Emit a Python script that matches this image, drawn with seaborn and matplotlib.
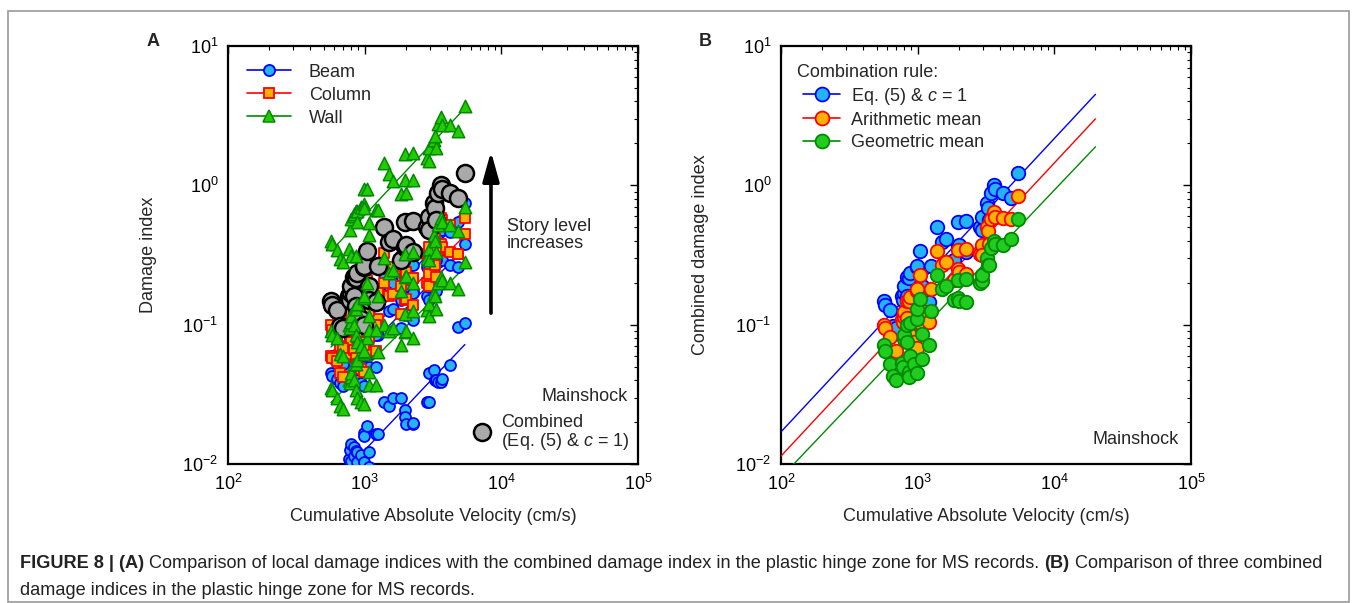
import numpy as np
import pandas as pd
import matplotlib
matplotlib.use("Agg")
import matplotlib.pyplot as plt
import seaborn as sns
from matplotlib.lines import Line2D
from matplotlib.patches import Rectangle

# ---------------- data ----------------
cav = [567, 577, 628, 660, 690, 770, 780, 790, 795, 836,
       836, 860, 860, 885, 885, 938, 982, 982, 990, 1040,
       1080, 1080, 1210, 1250, 1390, 1500, 1610, 1840, 1970, 1970,
       2020, 2240, 2250, 2870, 2940, 2970, 3240, 3250, 3300, 3430,
       3590, 3650, 4190, 4780, 5410]

combined_eq5 = [0.147, 0.139, 0.127, 0.098, 0.095, 0.160, 0.150, 0.169, 0.191, 0.160,
                0.221, 0.217, 0.136, 0.233, 0.118, 0.109, 0.258, 0.265, 0.100, 0.340,
                0.191, 0.150, 0.145, 0.264, 0.505, 0.392, 0.409, 0.291, 0.548, 0.363,
                0.370, 0.557, 0.330, 0.505, 0.589, 0.478, 0.743, 0.684, 0.560, 0.885,
                1.000, 0.935, 0.885, 0.807, 1.220]

combined_arith = [0.100, 0.095, 0.081, 0.062, 0.065, 0.110, 0.105, 0.114, 0.123, 0.112,
                  0.147, 0.147, 0.090, 0.158, 0.085, 0.075, 0.174, 0.180, 0.068, 0.227,
                  0.125, 0.100, 0.104, 0.181, 0.340, 0.270, 0.280, 0.210, 0.343, 0.249,
                  0.240, 0.350, 0.232, 0.321, 0.373, 0.316, 0.505, 0.470, 0.380, 0.570,
                  0.647, 0.596, 0.580, 0.570, 0.843]

combined_geom = [0.071, 0.065, 0.052, 0.043, 0.040, 0.053, 0.050, 0.079, 0.085, 0.075,
                 0.100, 0.046, 0.042, 0.103, 0.060, 0.052, 0.110, 0.130, 0.045, 0.153,
                 0.086, 0.057, 0.072, 0.125, 0.229, 0.181, 0.190, 0.150, 0.210, 0.156,
                 0.147, 0.211, 0.145, 0.200, 0.205, 0.229, 0.299, 0.268, 0.270, 0.353,
                 0.400, 0.380, 0.373, 0.410, 0.570]

# local damage indices, one list per story level (panel A)
beam_s1 = [0.006, 0.0055, 0.007, 0.005, 0.006, 0.0108, 0.0126, 0.0139, 0.0105, 0.0133,
           0.0115, 0.0123, 0.009, 0.0121, 0.0104, 0.0116, 0.0166, 0.0104, 0.0160, 0.0187,
           0.0121, 0.0095, 0.0164, 0.0164, 0.028, 0.026, 0.030, 0.030, 0.0244, 0.0217,
           0.0194, 0.0194, 0.0196, 0.028, 0.028, 0.045, 0.047, 0.040, 0.040, 0.039,
           0.039, 0.041, 0.051, 0.097, 0.103]
beam_s2 = [0.045, 0.043, 0.041, 0.038, 0.036, 0.050, 0.048, 0.055, 0.058, 0.052,
           0.068, 0.068, 0.045, 0.072, 0.040, 0.038, 0.080, 0.082, 0.036, 0.105,
           0.062, 0.050, 0.050, 0.085, 0.160, 0.125, 0.130, 0.095, 0.170, 0.118,
           0.120, 0.175, 0.108, 0.160, 0.185, 0.150, 0.235, 0.215, 0.175, 0.280,
           0.310, 0.290, 0.270, 0.260, 0.380]
beam_s3 = [0.060, 0.058, 0.062, 0.055, 0.052, 0.085, 0.080, 0.090, 0.095, 0.088,
           0.110, 0.112, 0.075, 0.118, 0.068, 0.062, 0.130, 0.135, 0.060, 0.165,
           0.100, 0.082, 0.085, 0.140, 0.230, 0.190, 0.200, 0.150, 0.260, 0.185,
           0.190, 0.270, 0.170, 0.260, 0.300, 0.250, 0.380, 0.350, 0.290, 0.450,
           0.520, 0.480, 0.460, 0.550, 0.750]
column_s2 = [0.060, 0.058, 0.055, 0.045, 0.042, 0.065, 0.062, 0.070, 0.075, 0.066,
             0.090, 0.088, 0.058, 0.095, 0.052, 0.048, 0.105, 0.108, 0.046, 0.135,
             0.080, 0.064, 0.065, 0.110, 0.200, 0.160, 0.165, 0.120, 0.210, 0.150,
             0.152, 0.215, 0.138, 0.200, 0.230, 0.190, 0.290, 0.270, 0.220, 0.340,
             0.380, 0.360, 0.330, 0.320, 0.450]
column_s3 = [0.100, 0.092, 0.085, 0.070, 0.068, 0.105, 0.098, 0.110, 0.120, 0.105,
             0.140, 0.140, 0.090, 0.150, 0.080, 0.075, 0.165, 0.170, 0.072, 0.210,
             0.125, 0.100, 0.100, 0.170, 0.327, 0.250, 0.260, 0.190, 0.330, 0.235,
             0.240, 0.340, 0.215, 0.320, 0.360, 0.300, 0.460, 0.420, 0.350, 0.540,
             0.583, 0.560, 0.520, 0.320, 0.580]
wall_s1 = [0.035, 0.034, 0.030, 0.026, 0.025, 0.040, 0.038, 0.042, 0.045, 0.040,
           0.052, 0.052, 0.034, 0.056, 0.030, 0.028, 0.062, 0.064, 0.027, 0.080,
           0.046, 0.037, 0.037, 0.064, 0.100, 0.090, 0.095, 0.072, 0.120, 0.088,
           0.090, 0.125, 0.080, 0.128, 0.140, 0.115, 0.170, 0.160, 0.130, 0.200,
           0.220, 0.210, 0.200, 0.180, 0.280]
wall_s2 = [0.090, 0.085, 0.080, 0.062, 0.060, 0.100, 0.095, 0.105, 0.115, 0.100,
           0.130, 0.130, 0.085, 0.140, 0.075, 0.070, 0.155, 0.160, 0.065, 0.200,
           0.115, 0.092, 0.092, 0.160, 0.300, 0.235, 0.245, 0.175, 0.320, 0.220,
           0.225, 0.330, 0.200, 0.300, 0.350, 0.290, 0.440, 0.400, 0.330, 0.520,
           0.580, 0.550, 0.520, 0.470, 0.700]
wall_s3 = [0.398, 0.380, 0.346, 0.294, 0.281, 0.350, 0.480, 0.570, 0.310, 0.600,
           0.620, 0.310, 0.650, 0.650, 0.550, 0.700, 0.730, 0.940, 0.690, 0.940,
           0.540, 0.440, 0.670, 0.670, 1.450, 1.210, 1.070, 0.860, 1.690, 1.100,
           0.880, 1.100, 1.710, 1.570, 1.490, 1.850, 2.120, 2.270, 1.850, 2.770,
           3.080, 2.720, 2.720, 2.440, 3.720]

# fitted lines of panel B (end points)
fitB_x = [100, 20000]
fitB_eq5 = [0.017, 4.5]
fitB_arith = [0.0114, 3.0]
fitB_geom = [0.0080, 1.89]

tick_vals_x = [1e2, 1e3, 1e4, 1e5]
tick_vals_y = [1e-2, 1e-1, 1e0, 1e1]

# ---------------- style ----------------
sns.set_theme(style="white", rc={"axes.edgecolor": "black", "xtick.color": "black",
                                 "ytick.color": "black"})
plt.rcParams["font.family"] = ["Liberation Sans", "DejaVu Sans"]
plt.rcParams["mathtext.fontset"] = "custom"
plt.rcParams["mathtext.rm"] = "Liberation Sans"
plt.rcParams["mathtext.it"] = "Liberation Sans:italic"
plt.rcParams["mathtext.default"] = "regular"

W, H = 1354, 603
fig = plt.figure(figsize=(W / 100, H / 100), dpi=100)
fig.patch.set_facecolor("white")

def ax_rect(left, top, right, bottom):
    return [left / W, 1 - bottom / H, (right - left) / W, (bottom - top) / H]

axA = fig.add_axes(ax_rect(228, 46, 638, 464))
axB = fig.add_axes(ax_rect(781, 46, 1191, 464))

FS = 13

def fmt(v):
    return r"$10^{%d}$" % int(round(np.log10(v)))

for ax in (axA, axB):
    ax.set_xscale("log")
    ax.set_yscale("log")
    ax.set_xlim(1e2, 1e5)
    ax.set_ylim(1e-2, 1e1)
    ax.set_xticks(tick_vals_x)
    ax.set_xticklabels([fmt(v) for v in tick_vals_x])
    ax.set_yticks(tick_vals_y)
    ax.set_yticklabels([fmt(v) for v in tick_vals_y])
    ax.tick_params(which="both", direction="in", top=True, right=True,
                   labelsize=FS, color="black")
    ax.tick_params(which="major", length=6, width=1.0, pad=7)
    ax.tick_params(which="minor", length=3, width=0.8)
    for s in ax.spines.values():
        s.set_linewidth(1.6)
        s.set_color("black")
    ax.set_xlabel("Cumulative Absolute Velocity (cm/s)", fontsize=FS)
    ax.xaxis.set_label_coords(0.5, -0.105)

axA.set_ylabel("Damage index", fontsize=FS)
axA.yaxis.set_label_coords(-0.174, 0.5)
axB.set_ylabel("Combined damage index", fontsize=FS)
axB.yaxis.set_label_coords(-0.175, 0.5)

# colours
BLUE_E, BLUE_F = "#0000ff", "#22b4f5"
RED_E, ORG_F = "#ff0000", "#ffb000"
GRN_E, GRN_F = "#008a00", "#22cc00"
GRN_F2 = "#20cc20"

def fit_line(ax, x, y, color):
    lx, ly = np.log10(x), np.log10(y)
    b, a = np.polyfit(lx, ly, 1)
    xx = np.array([min(x), max(x)])
    ax.plot(xx, 10 ** (a + b * np.log10(xx)), color=color, lw=1.0, zorder=3)

# ---------------- panel A ----------------
groups = [
    ("beam", beam_s1, "o", BLUE_F, BLUE_E, 62),
    ("beam", beam_s2, "o", BLUE_F, BLUE_E, 62),
    ("beam", beam_s3, "o", BLUE_F, BLUE_E, 62),
    ("column", column_s2, "s", ORG_F, RED_E, 48),
    ("column", column_s3, "s", ORG_F, RED_E, 48),
]
for name, vals, mk, fc, ec, s in groups:
    sns.scatterplot(x=cav, y=vals, ax=axA, marker=mk, s=s, color=fc,
                    edgecolor=ec, linewidth=1.3, zorder=4, legend=False)
    fit_line(axA, cav, vals, ec)

sns.scatterplot(x=cav, y=combined_eq5, ax=axA, marker="o", s=150, color="#aaaaaa",
                edgecolor="black", linewidth=1.8, zorder=5, legend=False)

for vals in (wall_s1, wall_s2, wall_s3):
    sns.scatterplot(x=cav, y=vals, ax=axA, marker="^", s=80, color=GRN_F,
                    edgecolor=GRN_E, linewidth=1.1, zorder=6, legend=False)
    fit_line(axA, cav, vals, GRN_E)

handlesA = [
    Line2D([], [], color=BLUE_E, lw=1.2, marker="o", ms=8, mfc=BLUE_F, mec=BLUE_E, mew=1.3),
    Line2D([], [], color=RED_E, lw=1.2, marker="s", ms=7, mfc=ORG_F, mec=RED_E, mew=1.3),
    Line2D([], [], color=GRN_E, lw=1.2, marker="^", ms=9, mfc=GRN_F, mec=GRN_E, mew=1.1),
]
legA = axA.legend(handlesA, ["Beam", "Column", "Wall"], loc="upper left",
                  bbox_to_anchor=(0.028, 0.975), frameon=False, fontsize=FS,
                  handlelength=2.45, handletextpad=1.0, labelspacing=0.33,
                  borderaxespad=0.0)

axA.annotate("", xy=(8400, 1.75), xytext=(8400, 0.121),
             arrowprops=dict(arrowstyle="-|>,head_length=0.9,head_width=0.25",
                             lw=2.6, color="black", mutation_scale=20,
                             shrinkA=0, shrinkB=0))
axA.text(11000, 0.44, "Story level\nincreases", fontsize=FS, ha="left",
         va="center", linespacing=1.05)
axA.text(0.975, 0.161, "Mainshock", transform=axA.transAxes, fontsize=FS,
         ha="right", va="center")
axA.scatter([0.62], [0.0776], transform=axA.transAxes, s=150, c="#aaaaaa",
            edgecolors="black", linewidths=1.8, zorder=7, clip_on=False)
axA.text(0.665, 0.099, "Combined", transform=axA.transAxes, fontsize=FS,
         ha="left", va="center")
axA.text(0.665, 0.0536, r"(Eq. (5) & $\mathit{c}$ = 1)", transform=axA.transAxes,
         fontsize=FS, ha="left", va="center")

# ---------------- panel B ----------------
axB.plot(fitB_x, fitB_eq5, color=BLUE_E, lw=1.0, zorder=3)
axB.plot(fitB_x, fitB_arith, color=RED_E, lw=1.0, zorder=3)
axB.plot(fitB_x, fitB_geom, color=GRN_E, lw=1.0, zorder=3)

sns.scatterplot(x=cav, y=combined_eq5, ax=axB, marker="o", s=95, color=BLUE_F,
                edgecolor=BLUE_E, linewidth=1.3, zorder=4, legend=False)
sns.scatterplot(x=cav, y=combined_arith, ax=axB, marker="o", s=95, color=ORG_F,
                edgecolor=RED_E, linewidth=1.3, zorder=5, legend=False)
sns.scatterplot(x=cav, y=combined_geom, ax=axB, marker="o", s=95, color=GRN_F2,
                edgecolor=GRN_E, linewidth=1.3, zorder=6, legend=False)

handlesB = [
    Line2D([], [], color=BLUE_E, lw=1.2, marker="o", ms=10, mfc=BLUE_F, mec=BLUE_E, mew=1.3),
    Line2D([], [], color=RED_E, lw=1.2, marker="o", ms=10, mfc=ORG_F, mec=RED_E, mew=1.3),
    Line2D([], [], color=GRN_E, lw=1.2, marker="o", ms=10, mfc=GRN_F2, mec=GRN_E, mew=1.3),
]
legB = axB.legend(handlesB, [r"Eq. (5) & $\mathit{c}$ = 1", "Arithmetic mean", "Geometric mean"],
                  loc="upper left", bbox_to_anchor=(0.035, 0.975), frameon=False,
                  fontsize=FS, title="Combination rule:", title_fontsize=FS,
                  alignment="left", handlelength=2.1, handletextpad=0.6,
                  labelspacing=0.28, borderaxespad=0.0)
legB.get_title().set_x(-6)

axB.text(0.971, 0.0576, "Mainshock", transform=axB.transAxes, fontsize=FS,
         ha="right", va="center")

# panel letters
fig.text(153 / W, 1 - 41 / H, "A", fontsize=FS, fontweight="bold", ha="center", va="center")
fig.text(705 / W, 1 - 41 / H, "B", fontsize=FS, fontweight="bold", ha="center", va="center")

# ---------------- caption ----------------
renderer = fig.canvas.get_renderer()
line1 = [("FIGURE 8 | (A)", "bold"),
         (" Comparison of local damage indices with the combined damage index in the plastic hinge zone for MS records. ", "normal"),
         ("(B)", "bold"),
         (" Comparison of three combined", "normal")]
line2 = [("damage indices in the plastic hinge zone for MS records.", "normal")]

def measure(parts, size):
    tot = 0
    for txt, w in parts:
        t = fig.text(0, 0, txt, fontsize=size, fontweight=w)
        tot += t.get_window_extent(renderer).width
        t.remove()
    return tot

base = 12
cap_size = base * 1306 / measure(line1, base)

def draw_parts(parts, x0, ybase, size):
    x = x0
    for txt, w in parts:
        t = fig.text(x / W, 1 - ybase / H, txt, fontsize=size, fontweight=w,
                     ha="left", va="baseline", color="#222222")
        x += t.get_window_extent(renderer).width

draw_parts(line1, 20, 568, cap_size)
draw_parts(line2, 20, 595, cap_size)

# outer frame
frame = Rectangle((8 / W, 1 - 602 / H), (1349 - 8) / W, (602 - 11) / H,
                  transform=fig.transFigure, fill=False, edgecolor="#9a9a9a", lw=1.2)
fig.patches.append(frame)

fig.savefig("out.png", dpi=100, facecolor="white")
